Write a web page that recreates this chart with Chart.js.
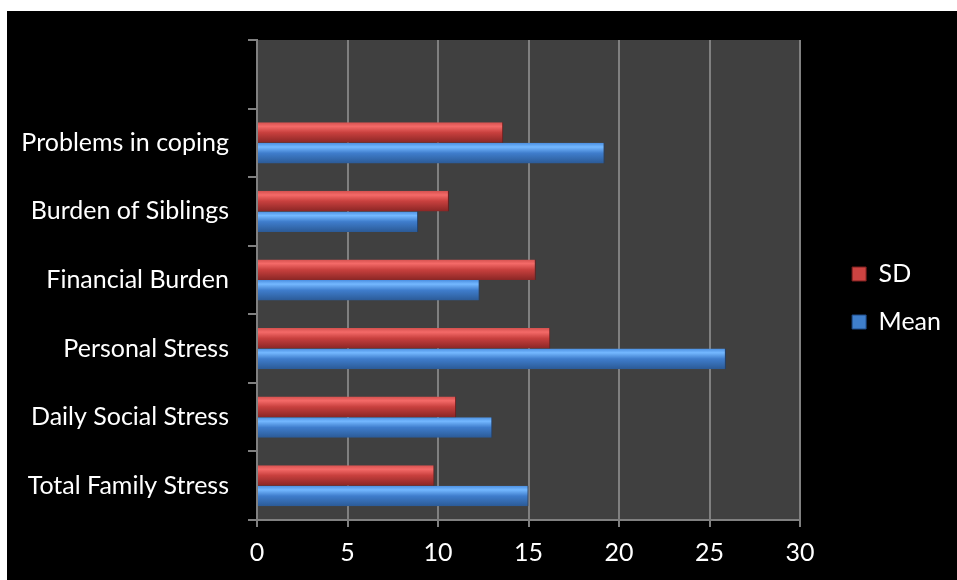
<!DOCTYPE html>
<html>
<head>
<meta charset="utf-8">
<script src="https://cdn.jsdelivr.net/npm/chart.js@4/dist/chart.umd.min.js"></script>
<style>
  html, body { margin: 0; padding: 0; background: #ffffff; }
  #wrap { position: absolute; left: 7px; top: 11px; width: 950px; height: 569px; background: #000000; }
  canvas { display: block; }
</style>
</head>
<body>
<div id="wrap"><canvas id="c" width="950" height="569"></canvas></div>
<script>
const categories = ['', 'Problems in coping', 'Burden of Siblings', 'Financial Burden', 'Personal Stress', 'Daily Social Stress', 'Total Family Stress'];
const sdValues   = [null, 13.6, 10.6, 15.4, 16.2, 11.0, 9.8];
const meanValues = [null, 19.2, 8.9, 12.3, 25.9, 13.0, 15.0];
const xTicks = [0, 5, 10, 15, 20, 25, 30];

const FONT = 'Lato, "Open Sans", sans-serif';
const FS = 25;

function barGradient(ctx, which, stops) {
  const chart = ctx.chart;
  const y = chart.scales && chart.scales.y;
  if (!y || !chart.chartArea) return stops[2][1];
  const n = categories.length;
  const band = (y.bottom - y.top) / n;
  const center = y.getPixelForValue(ctx.dataIndex);
  const thick = band * 0.6 / 2;
  const top = which === 0 ? center - thick : center;
  const g = chart.ctx.createLinearGradient(0, top, 0, top + thick);
  stops.forEach(s => g.addColorStop(s[0], s[1]));
  return g;
}
const redStops  = [[0, '#d4504e'], [0.2, '#f46a68'], [0.5, '#c8403e'], [1, '#8a2625']];
const blueStops = [[0, '#4a8ee0'], [0.2, '#74b8ff'], [0.5, '#3f7dcc'], [1, '#2b5a96']];

const plotBg = {
  id: 'plotBg',
  beforeDraw(chart) {
    const a = chart.chartArea;
    chart.ctx.save();
    chart.ctx.fillStyle = '#404040';
    chart.ctx.fillRect(a.left, a.top, a.right - a.left, a.bottom - a.top);
    chart.ctx.restore();
  }
};

new Chart(document.getElementById('c'), {
  type: 'bar',
  data: {
    labels: categories,
    datasets: [
      { label: 'SD', data: sdValues, backgroundColor: c => barGradient(c, 0, redStops), borderColor: '#6e1a1a', borderWidth: {top: 0, bottom: 0, left: 0, right: 1}, categoryPercentage: 0.6, barPercentage: 1.0 },
      { label: 'Mean', data: meanValues, backgroundColor: c => barGradient(c, 1, blueStops), borderColor: '#1c3f70', borderWidth: {top: 0, bottom: 0, left: 0, right: 1}, categoryPercentage: 0.6, barPercentage: 1.0 }
    ]
  },
  options: {
    indexAxis: 'y',
    responsive: false,
    animation: false,
    layout: { padding: { top: 29, bottom: 0, left: 0, right: 6 } },
    scales: {
      x: {
        min: 0, max: 30,
        afterBuildTicks: s => { s.ticks = xTicks.map(v => ({ value: v })); },
        afterFit: s => { s.height = 60; },
        grid: { color: '#808080', lineWidth: 2, tickLength: 7, drawTicks: true },
        border: { color: '#808080', width: 2 },
        ticks: { color: '#ffffff', font: { family: FONT, size: FS }, padding: 11 }
      },
      y: {
        afterFit: s => { s.width = 250; s.paddingTop = 0; s.paddingBottom = 0; },
        grid: { display: true, drawOnChartArea: false, drawTicks: true, tickLength: 9, color: '#808080', lineWidth: 2, offset: true },
        border: { color: '#808080', width: 2 },
        ticks: { color: '#ffffff', font: { family: FONT, size: FS }, padding: 19 }
      },
      yR: {
        type: 'linear',
        position: 'right',
        display: true,
        afterFit: s => { s.width = 29; s.paddingTop = 0; s.paddingBottom = 0; },
        grid: { display: false, drawTicks: false },
        border: { display: false },
        ticks: { display: false }
      }
    },
    plugins: {
      legend: {
        position: 'right',
        fullSize: false,
        title: { display: true, text: '', font: { size: 10 }, padding: 12 },
        labels: {
          color: '#ffffff',
          font: { family: FONT, size: FS },
          boxWidth: 14,
          boxHeight: 14,
          padding: 23,
          generateLabels: chart => {
            const items = Chart.defaults.plugins.legend.labels.generateLabels(chart);
            const fills = ['#cc4341', '#3f7fcc'];
            const strokes = ['#7a1f1e', '#1f4a85'];
            items.forEach((it, i) => { it.fillStyle = fills[i]; it.strokeStyle = strokes[i]; it.lineWidth = 1; });
            return items;
          }
        }
      },
      tooltip: { enabled: false }
    }
  },
  plugins: [plotBg]
});
</script>
</body>
</html>
